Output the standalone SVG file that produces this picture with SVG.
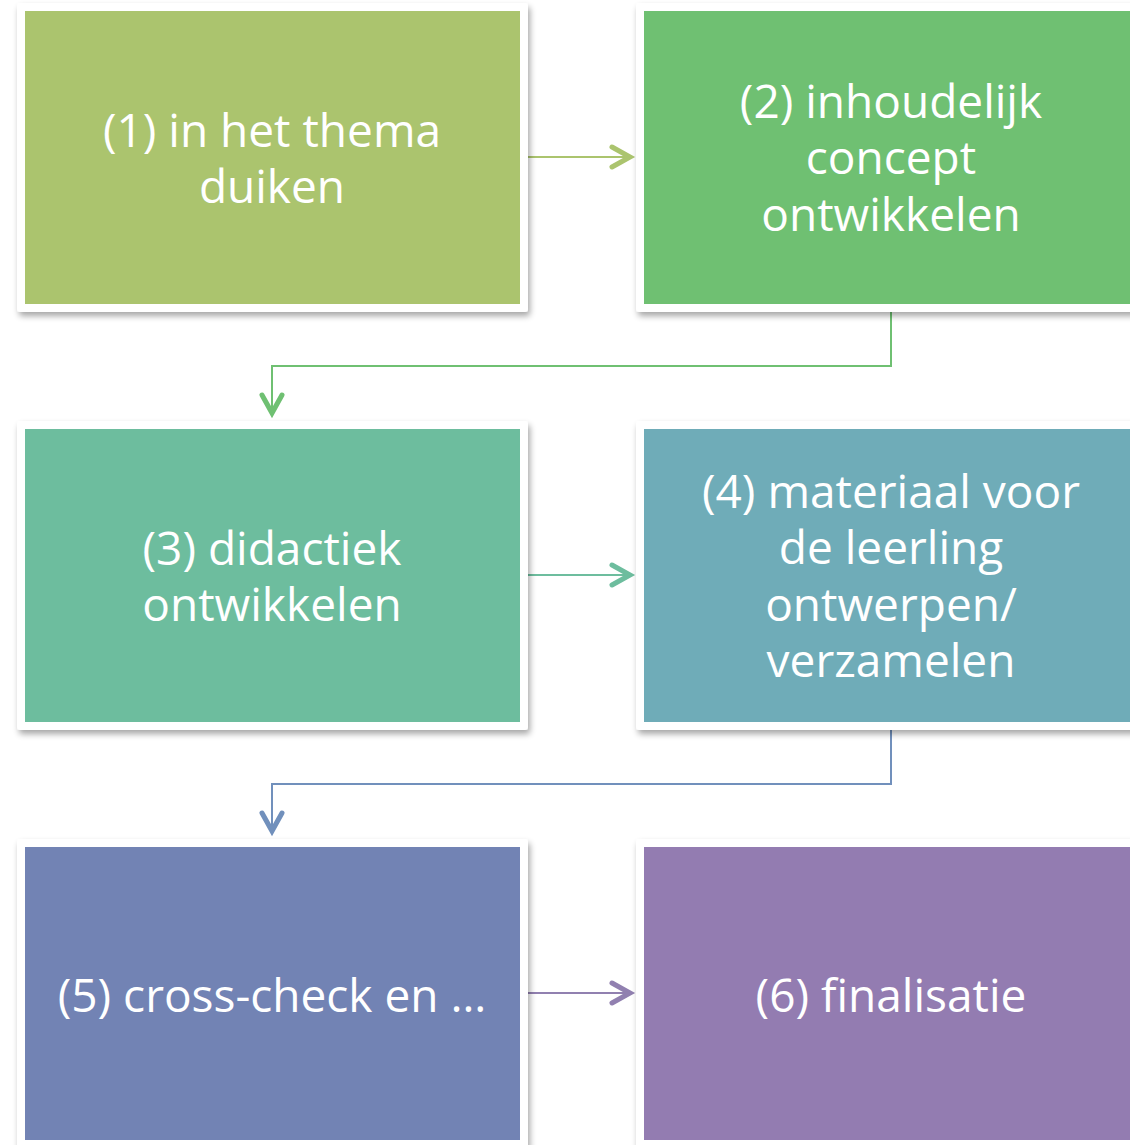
<svg xmlns="http://www.w3.org/2000/svg" width="1130" height="1145" viewBox="0 0 1130 1145">
<defs>
<filter id="sh" x="-5%" y="-5%" width="115%" height="115%">
<feGaussianBlur in="SourceAlpha" stdDeviation="3"/>
<feOffset dx="2" dy="4" result="b"/>
<feComponentTransfer><feFuncA type="linear" slope="0.35"/></feComponentTransfer>
<feMerge><feMergeNode/><feMergeNode in="SourceGraphic"/></feMerge>
</filter>
</defs>
<style>
.card{fill:#ffffff;filter:url(#sh)}
.lbl{font-family:"Open Sans","Noto Sans",sans-serif;font-size:46px;fill:#ffffff;text-anchor:middle}
.ln{fill:none;stroke-width:2}
.hd{fill:none;stroke-width:5;stroke-linecap:round;stroke-linejoin:miter}
</style>
<rect width="1130" height="1145" fill="#ffffff"/>
<g id="connectors">
<path class="ln" stroke="#abc46e" d="M528 157H630"/>
<path class="hd" stroke="#abc46e" d="M612 147L630 157L612 167"/>
<path class="ln" stroke="#6fc072" d="M891 312V366H272V412"/>
<path class="hd" stroke="#6fc072" d="M262 395L272 413L282 395"/>
<path class="ln" stroke="#6dbd9e" d="M528 575H630"/>
<path class="hd" stroke="#6dbd9e" d="M612 565L630 575L612 585"/>
<path class="ln" stroke="#7190bc" d="M891 730V784H272V830"/>
<path class="hd" stroke="#7190bc" d="M262 813L272 831L282 813"/>
<path class="ln" stroke="#9180b0" d="M528 993H630"/>
<path class="hd" stroke="#9180b0" d="M612 983L630 993L612 1003"/>
</g>
<g id="node1">
<rect class="card" x="17" y="3" width="511" height="309" rx="3"/>
<rect x="25" y="11" width="495" height="293" fill="#abc46e"/>
<text class="lbl" x="272" y="147">(1) in het thema</text>
<text class="lbl" x="272" y="203">duiken</text>
</g>
<g id="node2">
<rect class="card" x="636" y="3" width="511" height="309" rx="3"/>
<rect x="644" y="11" width="495" height="293" fill="#6fc072"/>
<text class="lbl" x="891" y="118">(2) inhoudelijk</text>
<text class="lbl" x="891" y="174">concept</text>
<text class="lbl" x="891" y="231">ontwikkelen</text>
</g>
<g id="node3">
<rect class="card" x="17" y="421" width="511" height="309" rx="3"/>
<rect x="25" y="429" width="495" height="293" fill="#6dbd9e"/>
<text class="lbl" x="272" y="565">(3) didactiek</text>
<text class="lbl" x="272" y="621">ontwikkelen</text>
</g>
<g id="node4">
<rect class="card" x="636" y="421" width="511" height="309" rx="3"/>
<rect x="644" y="429" width="495" height="293" fill="#6facb8"/>
<text class="lbl" x="891" y="508">(4) materiaal voor</text>
<text class="lbl" x="891" y="564">de leerling</text>
<text class="lbl" x="891" y="621">ontwerpen/</text>
<text class="lbl" x="891" y="677">verzamelen</text>
</g>
<g id="node5">
<rect class="card" x="17" y="839" width="511" height="309" rx="3"/>
<rect x="25" y="847" width="495" height="293" fill="#7283b4"/>
<text class="lbl" x="272" y="1012">(5) cross-check en …</text>
</g>
<g id="node6">
<rect class="card" x="636" y="839" width="511" height="309" rx="3"/>
<rect x="644" y="847" width="495" height="293" fill="#937cb1"/>
<text class="lbl" x="891" y="1012">(6) finalisatie</text>
</g>
</svg>
